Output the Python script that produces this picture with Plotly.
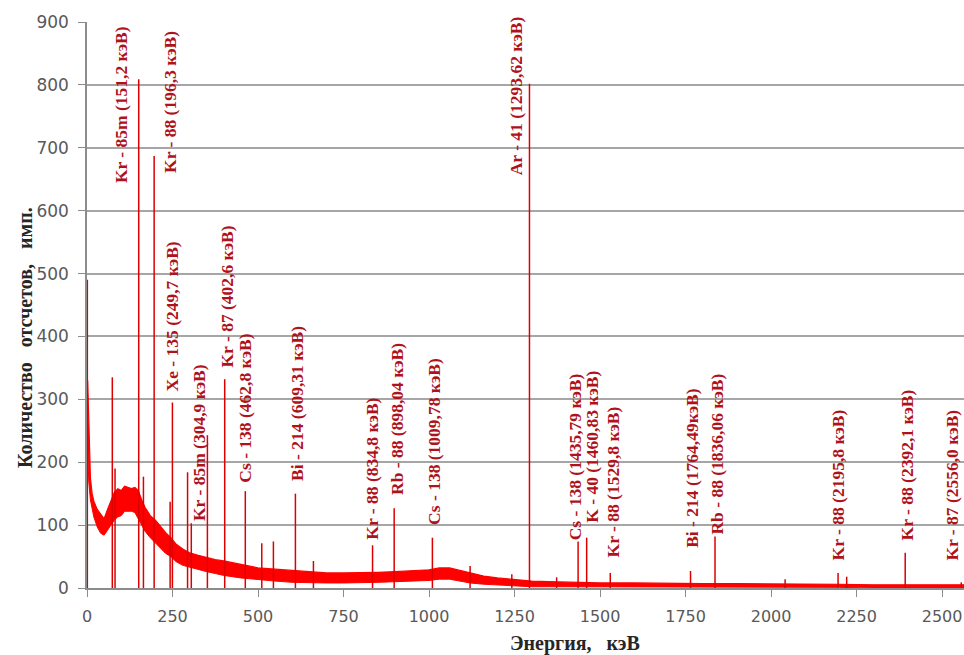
import plotly.graph_objects as go

# Continuum of the gamma spectrum: energy grid and lower / upper edge of the noise band
energy_kev = [2, 5, 10, 15, 20, 30, 40, 50, 60, 70, 80, 90, 100, 110, 120, 130, 140, 150,
              160, 170, 185, 200, 215, 230, 245, 260, 280, 300, 325, 350, 375, 400, 450,
              500, 550, 600, 650, 700, 750, 800, 850, 900, 950, 1000, 1030, 1060, 1090,
              1120, 1160, 1200, 1250, 1300, 1350, 1400, 1500, 1600, 1700, 1800, 1900,
              2000, 2100, 2200, 2300, 2400, 2500, 2564]
counts_low = [230, 170, 140, 125, 113, 97, 87, 84, 92, 98, 108, 113, 115, 122, 122, 122, 120,
              110, 100, 90, 80, 72, 64, 55, 50, 42, 36, 33, 29, 26, 23, 20, 16, 13, 11, 9, 8,
              8, 8, 8, 9, 10, 11, 12, 14, 14, 11, 8, 6, 5, 3, 2, 2, 2, 1, 1, 1, 1, 1, 1, 1,
              1, 0, 0, 0, 0]
counts_high = [330, 250, 175, 150, 138, 125, 118, 110, 125, 140, 152, 158, 155, 162, 160, 158,
               160, 155, 140, 128, 115, 108, 98, 88, 80, 70, 62, 56, 52, 48, 45, 43, 37, 32,
               30, 28, 26, 24, 24, 24, 25, 26, 27, 29, 32, 32, 28, 24, 19, 16, 13, 11, 10, 9,
               8, 8, 7, 7, 7, 7, 6, 6, 5, 5, 5, 5]

# Photopeaks: energy (keV) and peak height (counts)
peak_energy = [1, 74, 82, 151.2, 165, 196.3, 243, 249.7, 294, 304.9, 352, 402.6, 462.8, 511,
               545, 609.31, 662, 834.8, 898.04, 1009.78, 1120, 1242, 1293.62, 1373, 1435.79,
               1460.83, 1529.8, 1764.49, 1836.06, 2041, 2195.8, 2221, 2392.1, 2556.0]
peak_counts = [490, 335, 190, 809, 177, 687, 137, 295, 184, 103, 243, 332, 154, 71, 74, 150,
               43, 68, 127, 80, 35, 22, 802, 17, 74, 80, 24, 27, 82, 14, 24, 18, 56, 9]

# Nuclide identifications
label_energy = [151.2, 196.3, 249.7, 304.9, 402.6, 462.8, 609.31, 834.8, 898.04, 1009.78,
                1293.62, 1435.79, 1460.83, 1529.8, 1764.49, 1836.06, 2195.8, 2392.1, 2556.0]
label_text = ["Kr - 85m (151,2 кэВ)", "Kr - 88 (196,3 кэВ)", "Xe - 135 (249,7 кэВ)",
              "Kr - 85m (304,9 кэВ)", "Kr - 87 (402,6 кэВ)", "Cs - 138 (462,8 кэВ)",
              "Bi - 214 (609,31 кэВ)", "Kr - 88 (834,8 кэВ)", "Rb - 88 (898,04 кэВ)",
              "Cs - 138 (1009,78 кэВ)", "Ar - 41 (1293,62 кэВ)", "Cs - 138 (1435,79 кэВ)",
              "K - 40 (1460,83 кэВ)", "Kr - 88 (1529,8 кэВ)", "Bi - 214 (1764,49кэВ)",
              "Rb - 88 (1836,06 кэВ)", "Kr - 88 (2195,8 кэВ)", "Kr - 88 (2392,1 кэВ)",
              "Kr - 87 (2556,0 кэВ)"]

y_ticks = [0, 100, 200, 300, 400, 500, 600, 700, 800, 900]
x_ticks = [0, 250, 500, 750, 1000, 1250, 1500, 1750, 2000, 2250, 2500]

# Label placement: (horizontal shift in px, count level where the text starts)
label_layout = [(-17, 641), (16, 657), (0, 310), (7, 103), (2, 347), (0, 164), (2, 167),
                (0, 73), (3, 145), (1, 97), (-14, 653), (-3, 72), (5, 100), (3, 45),
                (2, 60), (2, 81), (0, 40), (2, 72), (-9, 40)]

RED = "#FF0000"
LABEL_RED = "#B0121B"
GAP = "\u00a0" * 3

fig = go.Figure()

# noise band of the continuum
fig.add_trace(go.Scatter(x=energy_kev, y=counts_low, mode="lines",
                         line=dict(color=RED, width=1), showlegend=False, hoverinfo="skip"))
fig.add_trace(go.Scatter(x=energy_kev, y=counts_high, mode="lines", fill="tonexty",
                         fillcolor=RED, line=dict(color=RED, width=1.2),
                         showlegend=False, hoverinfo="skip"))

# photopeaks as narrow spikes
px_, py_ = [], []
for e, c in zip(peak_energy, peak_counts):
    px_ += [e, e, None]
    py_ += [0, c, None]
fig.add_trace(go.Scatter(x=px_, y=py_, mode="lines", line=dict(color="#DD0000", width=1.5),
                         showlegend=False, hoverinfo="skip"))

annotations = []
for e, t, (dx, base) in zip(label_energy, label_text, label_layout):
    annotations.append(dict(x=e, y=base, xref="x", yref="y", text=t, textangle=-90,
                            showarrow=False, xanchor="center", yanchor="bottom", xshift=dx,
                            font=dict(family="Liberation Serif", size=17.5, color=LABEL_RED,
                                      weight="bold")))

annotations.append(dict(x=0, y=0.4417, xref="paper", yref="paper", xshift=-62,
                        text="Количество" + GAP + "отсчетов," + GAP + "имп.", textangle=-90,
                        showarrow=False, xanchor="center", yanchor="middle",
                        font=dict(family="Liberation Serif", size=20, color="#262626",
                                  weight="bold")))
annotations.append(dict(x=0.5564, y=-0.0972, xref="paper", yref="paper",
                        text="Энергия," + "\u00a0" * 3 + "кэВ", showarrow=False,
                        xanchor="center", yanchor="middle",
                        font=dict(family="Liberation Serif", size=20, color="#262626",
                                  weight="bold")))

fig.update_layout(
    width=964, height=655,
    margin=dict(l=87, r=0, t=22, b=67),
    paper_bgcolor="white", plot_bgcolor="white",
    annotations=annotations,
    xaxis=dict(range=[0, 2564], tickvals=x_ticks, showgrid=False, zeroline=False,
               showline=True, linecolor="#8C8C8C", linewidth=1.5,
               ticks="outside", ticklen=7, tickcolor="#8C8C8C", ticklabelstandoff=6,
               tickfont=dict(family="DejaVu Sans", size=16, color="#595959")),
    yaxis=dict(range=[0, 900], tickvals=y_ticks, showgrid=True, gridcolor="#A6A6A6",
               gridwidth=1.5, zeroline=False, showline=True, linecolor="#8C8C8C",
               linewidth=1.5, ticks="outside", ticklen=7, tickcolor="#8C8C8C",
               ticklabelstandoff=6,
               tickfont=dict(family="DejaVu Sans", size=17, color="#595959")),
)

fig.write_html("out.html")
